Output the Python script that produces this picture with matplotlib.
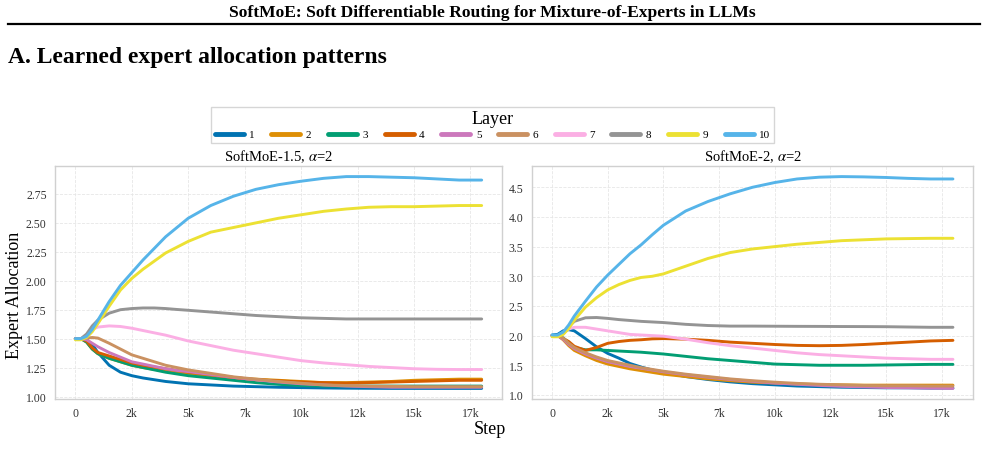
import matplotlib
matplotlib.use("Agg")
import matplotlib.pyplot as plt

plt.rcParams['font.family'] = ['Liberation Serif', 'DejaVu Serif']
plt.rcParams['mathtext.fontset'] = 'stix'

steps = [0, 250, 500, 750, 1000, 1500, 2000, 2500, 3000, 3500, 4000, 4500, 5000,
         6000, 7000, 8000, 9000, 10000, 11000, 12000, 13000, 14000, 15000, 16000, 17000, 18000]

layers = ["1", "2", "3", "4", "5", "6", "7", "8", "9", "10"]
colors = ["#0173b2", "#de8f05", "#029e73", "#d55e00", "#cc78bc",
          "#ca9161", "#fbafe4", "#949494", "#ece133", "#56b4e9"]

# SoftMoE-1.5
left_l1 = [1.50, 1.50, 1.49, 1.45, 1.38, 1.27, 1.21, 1.18, 1.16, 1.145, 1.13, 1.12, 1.11, 1.10, 1.09, 1.085, 1.08, 1.077, 1.074, 1.072, 1.071, 1.07, 1.07, 1.07, 1.07, 1.07]
left_l2 = [1.50, 1.50, 1.47, 1.41, 1.37, 1.33, 1.30, 1.27, 1.25, 1.235, 1.22, 1.21, 1.20, 1.18, 1.16, 1.15, 1.14, 1.13, 1.12, 1.12, 1.125, 1.13, 1.14, 1.145, 1.15, 1.15]
left_l3 = [1.50, 1.50, 1.47, 1.41, 1.37, 1.33, 1.30, 1.27, 1.25, 1.23, 1.21, 1.195, 1.18, 1.16, 1.14, 1.12, 1.105, 1.095, 1.09, 1.09, 1.09, 1.09, 1.09, 1.09, 1.09, 1.09]
left_l4 = [1.50, 1.50, 1.48, 1.42, 1.38, 1.35, 1.32, 1.29, 1.27, 1.255, 1.24, 1.225, 1.21, 1.19, 1.165, 1.145, 1.135, 1.125, 1.12, 1.115, 1.12, 1.125, 1.13, 1.135, 1.14, 1.14]
left_l5 = [1.50, 1.50, 1.49, 1.46, 1.43, 1.38, 1.34, 1.30, 1.28, 1.26, 1.24, 1.225, 1.215, 1.19, 1.165, 1.145, 1.125, 1.11, 1.10, 1.09, 1.085, 1.08, 1.08, 1.08, 1.08, 1.08]
left_l6 = [1.50, 1.50, 1.505, 1.51, 1.505, 1.46, 1.41, 1.36, 1.33, 1.30, 1.27, 1.25, 1.23, 1.20, 1.17, 1.15, 1.13, 1.115, 1.10, 1.095, 1.09, 1.088, 1.085, 1.085, 1.085, 1.085]
left_l7 = [1.50, 1.50, 1.53, 1.58, 1.60, 1.61, 1.605, 1.59, 1.57, 1.55, 1.53, 1.505, 1.48, 1.44, 1.40, 1.37, 1.34, 1.31, 1.29, 1.275, 1.26, 1.25, 1.24, 1.235, 1.233, 1.233]
left_l8 = [1.50, 1.50, 1.54, 1.61, 1.66, 1.72, 1.75, 1.76, 1.765, 1.765, 1.76, 1.752, 1.745, 1.73, 1.715, 1.70, 1.69, 1.68, 1.675, 1.67, 1.67, 1.67, 1.67, 1.67, 1.67, 1.67]
left_l9 = [1.49, 1.49, 1.51, 1.56, 1.63, 1.78, 1.92, 2.02, 2.10, 2.17, 2.24, 2.29, 2.34, 2.42, 2.46, 2.50, 2.54, 2.57, 2.60, 2.62, 2.635, 2.64, 2.64, 2.645, 2.65, 2.65]
left_l10 = [1.50, 1.50, 1.52, 1.58, 1.66, 1.82, 1.96, 2.07, 2.18, 2.28, 2.38, 2.46, 2.54, 2.65, 2.73, 2.79, 2.83, 2.86, 2.885, 2.90, 2.90, 2.895, 2.89, 2.88, 2.87, 2.87]

# SoftMoE-2
right_l1 = [2.01, 2.02, 2.08, 2.10, 2.08, 1.95, 1.81, 1.70, 1.62, 1.53, 1.47, 1.42, 1.38, 1.31, 1.26, 1.22, 1.19, 1.17, 1.15, 1.14, 1.13, 1.125, 1.12, 1.12, 1.115, 1.115]
right_l2 = [2.00, 2.00, 1.93, 1.83, 1.75, 1.66, 1.58, 1.52, 1.48, 1.44, 1.41, 1.38, 1.35, 1.31, 1.27, 1.24, 1.215, 1.20, 1.185, 1.175, 1.17, 1.165, 1.165, 1.165, 1.165, 1.165]
right_l3 = [2.00, 2.00, 1.96, 1.88, 1.80, 1.76, 1.76, 1.75, 1.74, 1.73, 1.72, 1.705, 1.69, 1.65, 1.61, 1.58, 1.55, 1.52, 1.51, 1.50, 1.50, 1.50, 1.505, 1.51, 1.515, 1.515]
right_l4 = [2.00, 2.00, 1.95, 1.90, 1.82, 1.75, 1.80, 1.87, 1.90, 1.92, 1.93, 1.945, 1.95, 1.94, 1.92, 1.89, 1.87, 1.85, 1.835, 1.83, 1.835, 1.85, 1.87, 1.89, 1.91, 1.92]
right_l5 = [2.00, 2.00, 1.94, 1.85, 1.78, 1.69, 1.62, 1.56, 1.52, 1.48, 1.45, 1.42, 1.39, 1.34, 1.30, 1.26, 1.23, 1.20, 1.18, 1.16, 1.145, 1.135, 1.125, 1.12, 1.115, 1.11]
right_l6 = [2.00, 2.00, 1.96, 1.87, 1.80, 1.71, 1.64, 1.58, 1.54, 1.50, 1.46, 1.43, 1.40, 1.35, 1.31, 1.27, 1.24, 1.215, 1.195, 1.18, 1.17, 1.16, 1.155, 1.155, 1.15, 1.15]
right_l7 = [2.00, 2.00, 2.05, 2.11, 2.14, 2.14, 2.11, 2.08, 2.05, 2.02, 2.01, 2.00, 1.99, 1.94, 1.88, 1.83, 1.79, 1.75, 1.71, 1.68, 1.66, 1.64, 1.62, 1.61, 1.60, 1.60]
right_l8 = [2.00, 2.00, 2.05, 2.15, 2.24, 2.30, 2.305, 2.29, 2.27, 2.255, 2.24, 2.23, 2.22, 2.19, 2.17, 2.16, 2.16, 2.158, 2.156, 2.155, 2.153, 2.152, 2.15, 2.145, 2.14, 2.14]
right_l9 = [1.98, 1.98, 2.02, 2.12, 2.26, 2.48, 2.64, 2.77, 2.86, 2.93, 2.98, 3.00, 3.04, 3.17, 3.30, 3.40, 3.46, 3.50, 3.54, 3.57, 3.60, 3.615, 3.63, 3.635, 3.64, 3.64]
right_l10 = [2.01, 2.01, 2.06, 2.18, 2.33, 2.58, 2.82, 3.02, 3.20, 3.38, 3.53, 3.70, 3.86, 4.10, 4.26, 4.39, 4.50, 4.58, 4.64, 4.67, 4.68, 4.675, 4.665, 4.65, 4.64, 4.64]

left_series = [left_l1, left_l2, left_l3, left_l4, left_l5, left_l6, left_l7, left_l8, left_l9, left_l10]
right_series = [right_l1, right_l2, right_l3, right_l4, right_l5, right_l6, right_l7, right_l8, right_l9, right_l10]

panel_titles = [r"SoftMoE-1.5, $\alpha$=2", r"SoftMoE-2, $\alpha$=2"]
xtick_vals = [0, 2500, 5000, 7500, 10000, 12500, 15000, 17500]
xtick_labels = ["0", "2k", "5k", "7k", "10k", "12k", "15k", "17k"]
left_yticks = [1.00, 1.25, 1.50, 1.75, 2.00, 2.25, 2.50, 2.75]
right_yticks = [1.0, 1.5, 2.0, 2.5, 3.0, 3.5, 4.0, 4.5]

W, H = 985, 456
fig = plt.figure(figsize=(W / 100, H / 100), dpi=100)

def rect(x0, y0, x1, y1):
    return [x0 / W, 1 - y1 / H, (x1 - x0) / W, (y1 - y0) / H]

ax1 = fig.add_axes(rect(55, 167, 502, 400))
ax2 = fig.add_axes(rect(532, 167, 973, 400))

handles = []
for ax, series, title, yt, fmt in [(ax1, left_series, panel_titles[0], left_yticks, "{:.2f}"),
                                   (ax2, right_series, panel_titles[1], right_yticks, "{:.1f}")]:
    for lab, col, vals in zip(layers, colors, series):
        ln, = ax.plot(steps, vals, color=col, lw=2.1, label=lab, solid_capstyle='round')
        if ax is ax1:
            handles.append(ln)
    ax.set_xticks(xtick_vals)
    ax.set_xticklabels(xtick_labels)
    ax.set_yticks(yt)
    ax.set_yticklabels([fmt.format(v) for v in yt])
    ax.margins(x=0.05, y=0.05)
    ax.grid(True, color='#e6e6e6', ls='--', lw=0.6)
    ax.set_axisbelow(True)
    for s in ax.spines.values():
        s.set_color('#d0d0d0')
        s.set_linewidth(1.0)
    ax.tick_params(length=0, labelsize=8.5, colors='#333333', pad=6)
    ax.set_title(title, fontsize=10.5, pad=4)

fig.text(15 / W, 1 - 295 / H, "Expert Allocation", rotation=90, ha='center', va='center', fontsize=13)
fig.text(490 / W, 1 - 430 / H, "Step", ha='center', va='center', fontsize=13)

fig.text(0.5, 1 - 13 / H, "SoftMoE: Soft Differentiable Routing for Mixture-of-Experts in LLMs",
         ha='center', va='center', fontsize=12.6, fontweight='bold')
fig.add_artist(plt.Line2D([8 / W, 980 / W], [1 - 25 / H, 1 - 25 / H], color='black', lw=1.6))
fig.text(8 / W, 1 - 57 / H, "A. Learned expert allocation patterns",
         ha='left', va='center', fontsize=17, fontweight='bold')

leg = fig.legend(handles, layers, loc='center', bbox_to_anchor=(492.5 / W, 1 - 126 / H),
                 ncol=10, title="Layer", fontsize=8, title_fontsize=13,
                 frameon=True, handlelength=2.6, handletextpad=0.5, columnspacing=1.5,
                 borderpad=0.3, labelspacing=0.2, fancybox=False)
leg.get_frame().set_edgecolor('#cccccc')
leg.get_frame().set_linewidth(1.0)
for lh in leg.get_lines():
    lh.set_linewidth(3.5)

fig.savefig("out.png", dpi=100)
